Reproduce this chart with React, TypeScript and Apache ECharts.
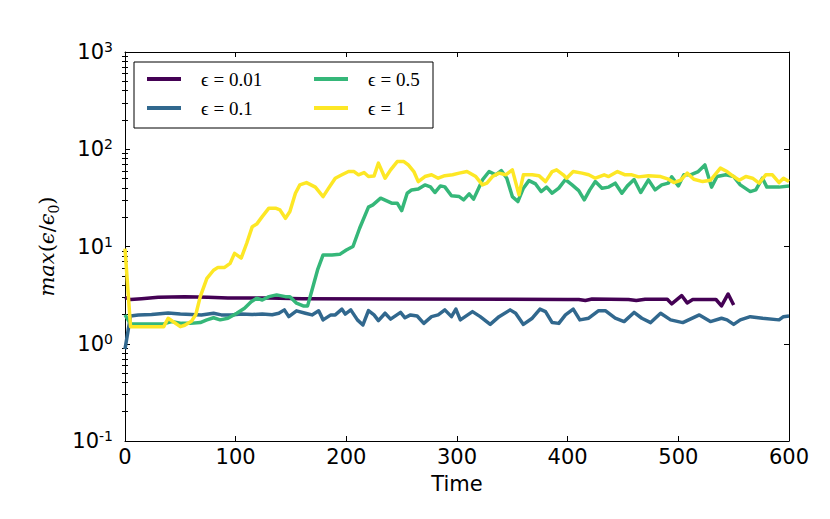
import React, { useEffect, useRef } from "react";
import * as echarts from "echarts";

const seriesNames = ["ϵ = 0.01", "ϵ = 0.1", "ϵ = 0.5", "ϵ = 1"];
const seriesColors = ["#440154", "#31688e", "#35b779", "#fde725"];

const xMin = 0;
const xMax = 600;
const xStep = 100;
const yMin = 0.1;
const yMax = 1000;
const decades = [0.1, 1, 10, 100];
const minorMultipliers = [2, 3, 4, 5, 6, 7, 8, 9];

// [time, max(eps/eps0)]
const eps001: [number, number][] = [
  [0, 3.0], [5, 2.85], [15, 2.9], [30, 3.0], [54, 3.05], [75, 3.0], [93, 2.95], [130, 2.95],
  [160, 2.9], [250, 2.88], [350, 2.87], [400, 2.85], [410, 2.85], [416, 2.78], [422, 2.88],
  [455, 2.85], [462, 2.78], [470, 2.87], [490, 2.87], [494, 2.57], [503, 3.13], [508, 2.63],
  [513, 2.85], [534, 2.85], [539, 2.45], [545, 3.25], [550, 2.5],
];

const eps01: [number, number][] = [
  [0, 0.88], [5, 1.93], [12, 1.98], [24, 2.0], [39, 2.07], [50, 2.02], [60, 2.0], [69, 1.98],
  [80, 2.06], [87, 1.98], [96, 1.98], [105, 2.02], [115, 2.0], [124, 2.02], [133, 1.99],
  [139, 2.06], [144, 2.23], [148, 1.9], [155, 2.18], [163, 2.06], [169, 1.98], [175, 2.18],
  [179, 1.76], [186, 1.98], [190, 1.98], [196, 2.27], [199, 2.02], [204, 2.23], [210, 1.76],
  [215, 1.56], [220, 2.19], [225, 1.98], [229, 1.73], [235, 2.06], [240, 1.79], [249, 2.1],
  [253, 1.85], [258, 1.98], [264, 1.93], [270, 1.62], [277, 1.9], [283, 1.98], [289, 2.23],
  [295, 1.9], [299, 2.27], [303, 1.76], [314, 2.14], [321, 1.9], [330, 1.58], [338, 1.9],
  [348, 2.23], [353, 2.06], [360, 1.58], [368, 1.83], [375, 2.27], [380, 2.14], [386, 1.65],
  [392, 1.62], [398, 1.98], [405, 2.27], [411, 1.76], [419, 1.83], [428, 2.19], [434, 2.19],
  [443, 1.83], [451, 1.69], [460, 2.1], [467, 1.83], [475, 1.65], [484, 2.06], [493, 1.76],
  [504, 1.65], [519, 1.98], [529, 1.69], [539, 1.83], [544, 1.76], [550, 1.58], [556, 1.76],
  [565, 1.9], [576, 1.83], [591, 1.76], [595, 1.9], [600, 1.93],
];

const eps05: [number, number][] = [
  [0, 1.98], [5, 1.6], [35, 1.6], [42, 1.69], [51, 1.62], [59, 1.62], [68, 1.65], [74, 1.76],
  [80, 1.85], [86, 1.76], [93, 1.83], [101, 2.06], [108, 2.32], [114, 2.71], [119, 2.94],
  [124, 2.82], [130, 3.05], [137, 3.18], [145, 3.05], [149, 3.05], [155, 2.61], [161, 2.45],
  [165, 2.45], [169, 3.57], [174, 5.74], [179, 8.2], [187, 8.2], [194, 8.3], [200, 9.2],
  [206, 10], [212, 15.4], [220, 25.4], [224, 26.8], [231, 31.4], [235, 30], [241, 27.9],
  [246, 27.9], [250, 23.4], [255, 35.3], [259, 38.2], [265, 39], [271, 43], [276, 41],
  [280, 35.9], [285, 42], [289, 41], [295, 33.2], [302, 32.6], [306, 30.2], [311, 34.8],
  [315, 30.7], [323, 48.4], [329, 59], [335, 54.6], [340, 60.4], [345, 50.4], [350, 32.6],
  [355, 29], [360, 39.8], [365, 47.6], [371, 44], [376, 36.7], [381, 40.8], [386, 35.3],
  [392, 39.8], [398, 48.8], [404, 43], [410, 37.6], [415, 30.2], [420, 38.2], [425, 46.5],
  [431, 39.8], [437, 40.8], [443, 44.8], [449, 35.3], [454, 42], [460, 48.8], [466, 35.9],
  [473, 48.4], [479, 38.2], [485, 43], [491, 44.8], [494, 52], [500, 42], [505, 54.6],
  [511, 54.6], [518, 59], [524, 69], [530, 40.8], [535, 52.4], [543, 54.6], [550, 52.4],
  [556, 43], [565, 36.7], [570, 38.2], [576, 50.4], [580, 40.8], [591, 40.8], [600, 42],
];

const eps1: [number, number][] = [
  [0, 9.5], [5, 1.5], [35, 1.5], [39, 1.83], [50, 1.5], [54, 1.55], [60, 1.7], [64, 2.0],
  [68, 3.05], [74, 4.7], [80, 5.7], [84, 6.1], [90, 6.1], [95, 6.7], [99, 8.5], [105, 7.6],
  [110, 10.8], [115, 16], [119, 17], [124, 20.3], [130, 24.8], [136, 24.8], [140, 23.8],
  [145, 19.5], [149, 22.9], [154, 35.3], [158, 43], [164, 45.4], [172, 40.8], [179, 32.6],
  [184, 39.8], [190, 50.4], [196, 54.6], [202, 59], [207, 59], [211, 54.6], [216, 57.6],
  [220, 52.4], [225, 53], [229, 72], [235, 50.4], [240, 61.4], [246, 74.7], [252, 74.7],
  [256, 69], [261, 59], [265, 46.5], [271, 52.4], [277, 54.6], [283, 50.4], [289, 53.5],
  [296, 54.6], [302, 56.8], [309, 59], [317, 52.4], [323, 43], [327, 44.8], [332, 52.4],
  [338, 56.8], [344, 54.6], [350, 61.4], [356, 34], [360, 54.6], [368, 54.6], [374, 53.5],
  [380, 46.5], [386, 59], [390, 61.4], [396, 54.6], [399, 50.4], [405, 59], [413, 56.8],
  [419, 54.6], [425, 50.4], [433, 54.6], [437, 52.4], [445, 59], [452, 54.6], [458, 54.6],
  [464, 52], [473, 53.5], [484, 52.4], [491, 49.2], [496, 45.4], [502, 48], [508, 56.8],
  [514, 49.2], [522, 46.5], [529, 48], [538, 63.9], [544, 59], [550, 52.4], [555, 48],
  [561, 52.4], [567, 50.4], [573, 44.8], [579, 54.6], [585, 54.6], [591, 45.4], [595, 50.4],
  [600, 46.5],
];

const seriesData = [eps001, eps01, eps05, eps1];

const minorTickValues = decades.flatMap((d) => minorMultipliers.map((m) => m * d));

const SANS = "'DejaVu Sans', sans-serif";
const SERIF = "'Liberation Serif', 'DejaVu Serif', serif";

export default function App() {
  const ref = useRef<HTMLDivElement>(null);
  useEffect(() => {
    if (!ref.current) return;
    const chart = echarts.init(ref.current, null, { renderer: "svg" });

    const axisLineStyle = { color: "#000", width: 1 };
    const yBase = {
      type: "log" as const,
      logBase: 10,
      min: yMin,
      max: yMax,
      splitLine: { show: false },
    };
    const xBase = {
      type: "value" as const,
      min: xMin,
      max: xMax,
      interval: xStep,
      splitLine: { show: false },
    };

    chart.setOption({
      animation: false,
      backgroundColor: "#fff",
      grid: { left: 125, right: 41, top: 52, bottom: 78, containLabel: false },
      legend: {
        left: 134,
        top: 62,
        width: 282,
        orient: "horizontal",
        icon: "rect",
        itemWidth: 34,
        itemHeight: 4,
        itemGap: 9,
        padding: [7, 9, 10, 13],
        borderColor: "#000",
        borderWidth: 1,
        borderRadius: 0,
        backgroundColor: "#fff",
        textStyle: {
          fontFamily: SERIF,
          fontSize: 19,
          color: "#000",
          lineHeight: 20,
          padding: [0, 0, 0, 15],
        },
        data: [
          { name: seriesNames[0], textStyle: { width: 104 } },
          { name: seriesNames[2], textStyle: { width: 56 } },
          { name: seriesNames[1], textStyle: { width: 104 } },
          { name: seriesNames[3], textStyle: { width: 56 } },
        ],
      },
      xAxis: [
        {
          ...xBase,
          position: "bottom",
          name: "Time",
          nameLocation: "middle",
          nameGap: 32,
          nameTextStyle: { fontFamily: SANS, fontSize: 21, color: "#000" },
          axisLine: { show: true, onZero: false, lineStyle: axisLineStyle },
          axisTick: { show: true, inside: true, length: 5, lineStyle: axisLineStyle },
          axisLabel: {
            show: true,
            margin: 5,
            fontFamily: SANS,
            fontSize: 21,
            color: "#000",
            showMinLabel: true,
            showMaxLabel: true,
          },
        },
        {
          ...xBase,
          position: "top",
          axisLine: { show: true, onZero: false, lineStyle: axisLineStyle },
          axisTick: { show: true, inside: true, length: 5, lineStyle: axisLineStyle },
          axisLabel: { show: false },
        },
      ],
      yAxis: [
        {
          ...yBase,
          position: "left",
          name: "{i|max}{n|(}{i|ϵ}{n|/}{i|ϵ}{s|0}{n|)}",
          nameLocation: "middle",
          nameGap: 60,
          nameTextStyle: {
            rich: {
              i: { fontFamily: "'DejaVu Serif', serif", fontStyle: "italic", fontSize: 21, lineHeight: 28, color: "#000" },
              n: { fontFamily: "'DejaVu Serif', serif", fontSize: 21, lineHeight: 28, color: "#000" },
              s: { fontFamily: "'DejaVu Serif', serif", fontSize: 14, lineHeight: 14, verticalAlign: "bottom", color: "#000" },
            },
          },
          axisLine: { show: true, onZero: false, lineStyle: axisLineStyle },
          axisTick: { show: true, inside: true, length: 5, lineStyle: axisLineStyle },
          axisLabel: {
            show: true,
            margin: 12,
            formatter: (v: number) => `{b|10}{s|${Math.round(Math.log10(v))}}`,
            rich: {
              b: { fontFamily: SANS, fontSize: 21, lineHeight: 24, color: "#000" },
              s: { fontFamily: SANS, fontSize: 14, lineHeight: 14, verticalAlign: "top", color: "#000" },
            },
          },
        },
        {
          ...yBase,
          position: "left",
          axisLine: { show: false },
          axisTick: { show: true, inside: true, length: 3, lineStyle: axisLineStyle, customValues: minorTickValues },
          axisLabel: { show: false },
        },
        {
          ...yBase,
          position: "right",
          axisLine: { show: true, onZero: false, lineStyle: axisLineStyle },
          axisTick: { show: true, inside: true, length: 5, lineStyle: axisLineStyle },
          axisLabel: { show: false },
        },
        {
          ...yBase,
          position: "right",
          axisLine: { show: false },
          axisTick: { show: true, inside: true, length: 3, lineStyle: axisLineStyle, customValues: minorTickValues },
          axisLabel: { show: false },
        },
      ],
      series: seriesData.map((data, i) => ({
        name: seriesNames[i],
        type: "line",
        xAxisIndex: 0,
        yAxisIndex: 0,
        data,
        symbol: "none",
        showSymbol: false,
        lineStyle: { color: seriesColors[i], width: 3.5, join: "round" },
        itemStyle: { color: seriesColors[i] },
        emphasis: { disabled: true },
        z: 2 + i,
      })),
    });

    return () => chart.dispose();
  }, []);

  return (
    <div
      ref={ref}
      style={{ position: "fixed", left: 0, top: 0, width: 830, height: 519, background: "#fff" }}
    />
  );
}
